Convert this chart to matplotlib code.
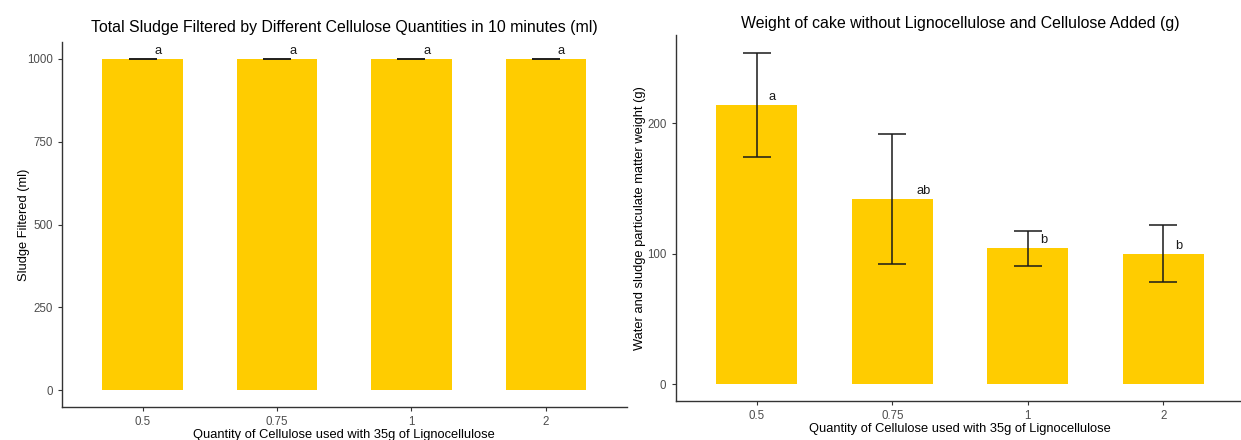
import matplotlib
matplotlib.use('Agg')
import matplotlib.pyplot as plt
import numpy as np

# data
quantities = ['0.5', '0.75', '1', '2']

sludge_filtered = [1000, 1000, 1000, 1000]
sludge_err = [0, 0, 0, 0]
sludge_letters = ['a', 'a', 'a', 'a']

cake_weight = [214, 142, 104, 100]
cake_err = [40, 50, 13.3, 22]
cake_letters = ['a', 'ab', 'b', 'b']

plt.rcParams['font.family'] = ['Liberation Sans', 'DejaVu Sans']
bar_col = '#FFCC00'
W, H = 1241, 440

fig = plt.figure(figsize=(W / 100, H / 100), dpi=100)


def px_axes(x0, y0, x1, y1):
    # pixel box (top-left origin) -> figure fraction
    return fig.add_axes([x0 / W, 1 - y1 / H, (x1 - x0) / W, (y1 - y0) / H])


def draw_panel(ax, vals, errs, letters, title, ylabel, yticks, ymax, tpad):
    xs = np.arange(1, len(vals) + 1)
    ax.bar(xs, vals, width=0.6, color=bar_col, zorder=1)
    ax.errorbar(xs, vals, yerr=errs, fmt='none', ecolor='#1a1a1a',
                elinewidth=1.1, capsize=9.8, capthick=1.1, zorder=2)
    for x, v, lab in zip(xs, vals, letters):
        ax.annotate(lab, (x, v), xytext=(11.2 * len(lab), 1.5),
                    textcoords='offset points', ha='center', va='bottom',
                    fontsize=9.3, color='#1a1a1a')
    ax.set_xlim(0.4, len(vals) + 0.6)
    ax.set_ylim(-0.05 * ymax, 1.05 * ymax)
    ax.set_xticks(xs)
    ax.set_xticklabels(quantities)
    ax.set_yticks(yticks)
    ax.tick_params(colors='#333333', labelcolor='#4d4d4d', labelsize=8.3,
                   length=3, width=0.8)
    for s in ['top', 'right']:
        ax.spines[s].set_visible(False)
    for s in ['left', 'bottom']:
        ax.spines[s].set_color('#333333')
        ax.spines[s].set_linewidth(1.0)
    ax.set_title(title, fontsize=11.4, color='black', pad=tpad)
    ax.set_xlabel('Quantity of Cellulose used with 35g of Lignocellulose',
                  fontsize=9.3, labelpad=1)
    ax.set_ylabel(ylabel, fontsize=9.3)


ax1 = px_axes(62, 42, 626.5, 407)
draw_panel(ax1, sludge_filtered, sludge_err, sludge_letters,
           'Total Sludge Filtered by Different Cellulose Quantities in 10 minutes (ml)',
           'Sludge Filtered (ml)', [0, 250, 500, 750, 1000], 1000, 7)
ax1.yaxis.set_label_coords(-0.056, 0.5)

ax2 = px_axes(675.5, 35, 1244.5, 400.7)
draw_panel(ax2, cake_weight, cake_err, cake_letters,
           'Weight of cake without Lignocellulose and Cellulose Added (g)',
           'Water and sludge particulate matter weight (g)', [0, 100, 200], 255, 5)
ax2.yaxis.set_label_coords(-0.051, 0.5)

fig.savefig('out.png', dpi=100)
